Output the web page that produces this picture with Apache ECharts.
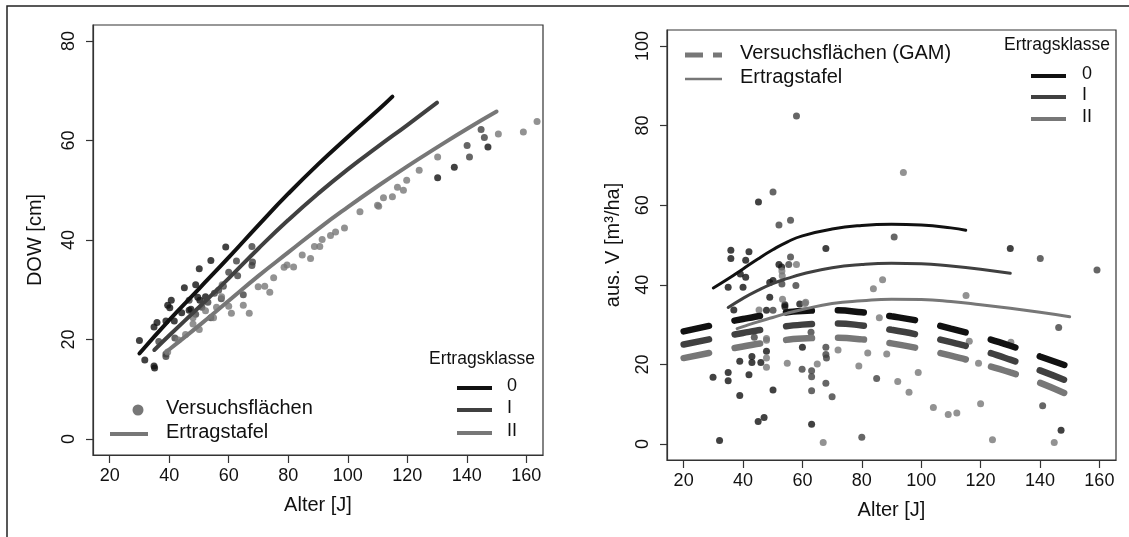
<!DOCTYPE html>
<html lang="de">
<head>
<meta charset="UTF-8" />
<title>DOW und ausscheidender Vorrat nach Alter</title>
<style>
  html, body { margin: 0; padding: 0; background: #fff; }
  #chart { width: 1129px; height: 537px; }
</style>
</head>
<body>
<div id="chart"></div>
<script src="https://cdn.jsdelivr.net/npm/echarts@6/dist/echarts.min.js"></script>
<script>
// --- left panel: DOW [cm] ---
const tafelDowAge0 = [30, 40, 50, 60, 70, 80, 90, 100, 110, 115];
const tafelDow0    = [17.2, 23.9, 30.2, 36.5, 43.0, 49.3, 55.2, 60.7, 66.0, 68.8];
const tafelDowAgeI = [35, 40, 50, 60, 70, 80, 90, 100, 110, 120, 130];
const tafelDowI    = [17.9, 20.8, 26.5, 32.3, 38.3, 44.0, 49.3, 54.2, 58.7, 63.1, 67.6];
const tafelDowAgeII = [39, 40, 50, 60, 70, 80, 90, 100, 110, 120, 130, 140, 150];
const tafelDowII    = [17.5, 18.0, 22.8, 27.8, 32.8, 37.5, 42.2, 46.6, 50.8, 54.8, 58.6, 62.3, 65.8];

const dowPts0 = [[30.0,19.8],[31.8,15.9],[34.9,14.7],[35.1,14.3],[34.9,22.5],[35.9,23.4],[38.9,23.7],[39.5,26.9],
  [40.7,27.9],[41.7,23.7],[40.2,26.4],[44.2,25.4],[45.1,30.4],[46.7,25.9],[47.3,26.1],[48.9,31.0],[49.6,28.5],
  [50.1,34.2],[50.3,27.9],[52.2,28.6],[54.0,35.9],[59.0,38.6],[130.2,52.5],[135.8,54.6],[147.1,58.7]];
const dowPtsI = [[36.5,19.6],[38.9,17.1],[38.9,16.6],[41.9,20.3],[46.7,27.9],[48.9,25.1],[51.0,26.5],[53.0,27.5],
  [54.0,24.4],[55.2,29.3],[56.6,29.9],[57.5,28.2],[58.2,30.7],[60.0,33.5],[62.6,35.8],[63.0,32.8],[64.9,29.0],
  [67.8,38.7],[67.8,34.9],[68.0,35.6],[140.1,59.0],[140.9,56.7],[144.8,62.2],[145.9,60.6]];
const dowPtsII = [[39.5,17.5],[43.1,19.9],[45.5,21.0],[48.0,23.1],[48.0,24.4],[50.1,22.0],[52.2,25.8],[54.9,24.4],
  [55.9,26.5],[57.6,28.6],[57.8,31.0],[60.0,26.7],[60.9,25.3],[64.9,26.9],[66.9,25.3],[69.9,30.6],[72.1,30.7],
  [73.8,29.5],[75.1,32.4],[78.6,34.5],[79.6,35.0],[81.8,34.6],[84.7,37.0],[87.5,36.3],[88.8,38.7],[90.6,38.7],
  [91.4,40.1],[94.2,40.9],[95.9,41.6],[98.9,42.4],[104.1,45.7],[110.0,47.0],[110.4,46.8],[112.0,48.5],[115.0,48.7],
  [116.7,50.6],[118.7,50.0],[119.8,52.0],[124.0,54.0],[130.2,56.7],[150.6,61.3],[159.0,61.7],[163.6,63.8]];

// --- right panel: aus. V [m3/ha] ---
const tafelVAge0 = [30, 35, 40, 45, 50, 55, 60, 70, 80, 90, 100, 110, 115];
const tafelV0    = [39.2, 41.5, 44.0, 46.5, 48.8, 50.8, 52.3, 54.0, 54.9, 55.2, 55.0, 54.3, 53.7];
const tafelVAgeI = [35, 40, 45, 50, 55, 60, 70, 80, 90, 100, 110, 120, 130];
const tafelVI    = [34.3, 36.6, 38.6, 40.3, 41.6, 42.7, 44.3, 45.1, 45.4, 45.3, 44.7, 43.9, 42.9];
const tafelVAgeII = [38, 40, 45, 50, 55, 60, 70, 80, 90, 100, 110, 120, 130, 140, 150];
const tafelVII    = [29.0, 29.5, 30.7, 31.8, 32.9, 33.8, 35.3, 36.0, 36.4, 36.3, 35.8, 35.0, 34.1, 33.1, 32.0];

const gamAge = [20, 30, 40, 50, 60, 70, 80, 90, 100, 110, 120, 130, 140, 150];
const gam0  = [28.3, 29.9, 31.4, 32.6, 33.4, 33.6, 33.1, 32.1, 30.8, 29.0, 27.0, 24.7, 22.0, 19.4];
const gamI  = [25.0, 26.5, 27.9, 29.1, 30.0, 30.3, 29.8, 28.7, 27.3, 25.6, 23.6, 21.2, 18.5, 15.6];
const gamII = [21.6, 23.1, 24.5, 25.7, 26.5, 26.7, 26.3, 25.3, 23.9, 22.2, 20.2, 18.0, 15.4, 12.2];

const vPts0 = [[35.9,48.7],[35.9,46.6],[42.0,48.3],[40.9,46.2],[45.2,60.8],[67.9,49.1],[130.0,49.1],[35.0,39.4],
  [40.0,39.4],[39.1,42.7],[40.9,41.9],[36.9,33.7],[29.9,16.8],[35.0,18.0],[35.0,15.9],[38.9,12.2],[38.9,20.8],
  [42.0,17.4],[43.0,22.0],[43.0,20.5],[46.0,20.5],[45.1,5.7],[47.1,6.7],[32.1,0.9],[47.9,23.3],[49.0,36.9],
  [50.1,13.6],[49.0,40.6],[50.1,41.1],[54.1,34.5],[59.1,35.2],[60.0,24.3],[63.1,5.0],[147.1,3.5],[52.1,45.1],
  [53.0,44.5],[47.9,33.6],[54.1,35.0]];
const vPtsI = [[58.0,82.4],[50.1,63.3],[56.0,56.2],[52.1,55.0],[90.9,52.0],[140.1,46.6],[159.2,43.7],[56.0,47.0],
  [43.8,26.8],[57.8,39.8],[59.9,18.8],[62.9,28.1],[63.1,18.4],[63.1,16.9],[63.1,13.4],[67.9,24.3],[67.9,22.5],
  [68.1,21.6],[67.9,15.3],[70.0,11.9],[80.0,1.7],[85.0,16.5],[140.9,9.6],[146.3,29.3],[55.4,45.1],[50.1,33.6],
  [53.1,40.2]];
const vPtsII = [[94.0,68.2],[58.0,45.1],[47.9,21.6],[47.9,19.3],[47.9,26.1],[45.4,33.7],[53.3,36.4],[53.2,42.3],
  [54.9,20.3],[61.1,35.6],[65.0,20.1],[67.0,0.4],[72.0,23.6],[79.0,19.6],[82.0,22.9],[83.9,39.0],[87.0,41.3],
  [85.9,31.7],[88.4,22.6],[92.1,15.7],[95.9,13.0],[99.0,18.0],[104.1,9.2],[109.1,7.4],[112.0,7.8],[115.1,37.3],
  [116.2,25.8],[119.3,20.3],[120.0,10.1],[124.0,1.1],[130.2,25.6],[144.8,0.4],[47.9,26.5],[60.9,35.3],[53.1,43.5]];

const xTicks = [20, 40, 60, 80, 100, 120, 140, 160];
const dowTicks = [0, 20, 40, 60, 80];
const vTicks = [0, 20, 40, 60, 80, 100];

const klassen = ['0', 'I', 'II'];
const colors = ['#111111', '#404040', '#777777'];
const FONT = 'Liberation Sans, Arial, sans-serif';

const zip = (xs, ys) => xs.map((x, i) => [x, ys[i]]);

function xAxis(idx) {
  return {
    type: 'value', gridIndex: idx, min: 14.4, max: 165.6,
    name: 'Alter [J]', nameLocation: 'middle', nameGap: 40,
    nameTextStyle: { fontSize: 20, color: '#111', fontFamily: FONT },
    axisLine: { show: true, onZero: false, lineStyle: { color: '#333', width: 1.2 } },
    axisTick: { show: true, length: 8, customValues: xTicks, lineStyle: { color: '#333', width: 1.2 } },
    axisLabel: { customValues: xTicks, fontSize: 18, color: '#111', fontFamily: FONT, margin: 12 },
    splitLine: { show: false }
  };
}
function yAxis(idx, min, max, ticks, name, gap) {
  return {
    type: 'value', gridIndex: idx, min: min, max: max,
    name: name, nameLocation: 'middle', nameGap: gap,
    nameTextStyle: { fontSize: 20, color: '#111', fontFamily: FONT },
    axisLine: { show: true, onZero: false, lineStyle: { color: '#333', width: 1.2 } },
    axisTick: { show: true, length: 7, customValues: ticks, lineStyle: { color: '#333', width: 1.2 } },
    axisLabel: { customValues: ticks, rotate: 90, fontSize: 18, color: '#111', fontFamily: FONT, margin: 15 },
    splitLine: { show: false }
  };
}

function scatter(idx, pts, color) {
  return { type: 'scatter', xAxisIndex: idx, yAxisIndex: idx, data: pts, symbolSize: 7,
    itemStyle: { color: color }, silent: true };
}
function tafel(idx, xs, ys, color, width) {
  return { type: 'line', xAxisIndex: idx, yAxisIndex: idx, data: zip(xs, ys), smooth: true,
    showSymbol: false, lineStyle: { color: color, width: width, cap: 'round' }, silent: true };
}
function gam(xs, ys, color) {
  return { type: 'line', xAxisIndex: 1, yAxisIndex: 1, data: zip(xs, ys), smooth: true,
    showSymbol: false, lineStyle: { color: color, width: 6.5, cap: 'round', type: [26, 26] }, silent: true };
}

// legend pieces drawn as graphics
function txt(x, y, s, size) {
  return { type: 'text', left: x, top: y - size * 0.6,
    style: { text: s, fontSize: size, fill: '#111', fontFamily: FONT } };
}
function seg(x1, x2, y, color, w) {
  return { type: 'line', shape: { x1: x1, y1: y, x2: x2, y2: y },
    style: { stroke: color, lineWidth: w, lineCap: 'butt' } };
}

const legendY = [388, 410, 433];
const legendYR = [76, 97, 119];
const graphics = [
  { type: 'rect', shape: { x: 7, y: 6, width: 1200, height: 600 },
    style: { fill: 'none', stroke: '#222', lineWidth: 1.5 } },
  // left
  { type: 'circle', shape: { cx: 138, cy: 410, r: 5.5 }, style: { fill: '#777' } },
  txt(166, 410, 'Versuchsflächen', 20),
  seg(110, 148, 434, '#777', 4),
  txt(166, 434, 'Ertragstafel', 20),
  txt(429, 361, 'Ertragsklasse', 17.5),
  // right
  seg(685, 703, 55, '#777', 5), seg(713, 722, 55, '#777', 5),
  txt(740, 55, 'Versuchsflächen (GAM)', 20),
  seg(685, 722, 79, '#777', 2.5),
  txt(740, 79, 'Ertragstafel', 20),
  txt(1004, 47, 'Ertragsklasse', 17.5)
];
klassen.forEach((k, i) => {
  graphics.push(seg(457, 492, legendY[i], colors[i], 4));
  graphics.push(txt(507, legendY[i], k, 18));
  graphics.push(seg(1031, 1066, legendYR[i], colors[i], 4));
  graphics.push(txt(1082, legendYR[i], k, 18));
});

const chart = echarts.init(document.getElementById('chart'), null, { renderer: 'canvas' });
chart.setOption({
  animation: false,
  backgroundColor: '#fff',
  grid: [
    { left: 93, top: 25, width: 450, height: 430, show: true, borderColor: '#333', borderWidth: 1.2 },
    { left: 667, top: 30, width: 449, height: 430, show: true, borderColor: '#333', borderWidth: 1.2 }
  ],
  xAxis: [xAxis(0), xAxis(1)],
  yAxis: [
    yAxis(0, -3.2, 83.2, dowTicks, 'DOW [cm]', 48),
    yAxis(1, -4, 104, vTicks, 'aus. V [m³/ha]', 44)
  ],
  series: [
    scatter(0, dowPts0, colors[0]), scatter(0, dowPtsI, colors[1]), scatter(0, dowPtsII, colors[2]),
    tafel(0, tafelDowAge0, tafelDow0, colors[0], 4),
    tafel(0, tafelDowAgeI, tafelDowI, colors[1], 4),
    tafel(0, tafelDowAgeII, tafelDowII, colors[2], 4),
    scatter(1, vPts0, colors[0]), scatter(1, vPtsI, colors[1]), scatter(1, vPtsII, colors[2]),
    gam(gamAge, gam0, colors[0]), gam(gamAge, gamI, colors[1]), gam(gamAge, gamII, colors[2]),
    tafel(1, tafelVAge0, tafelV0, colors[0], 3),
    tafel(1, tafelVAgeI, tafelVI, colors[1], 3),
    tafel(1, tafelVAgeII, tafelVII, colors[2], 3)
  ],
  graphic: graphics
});
</script>
</body>
</html>
